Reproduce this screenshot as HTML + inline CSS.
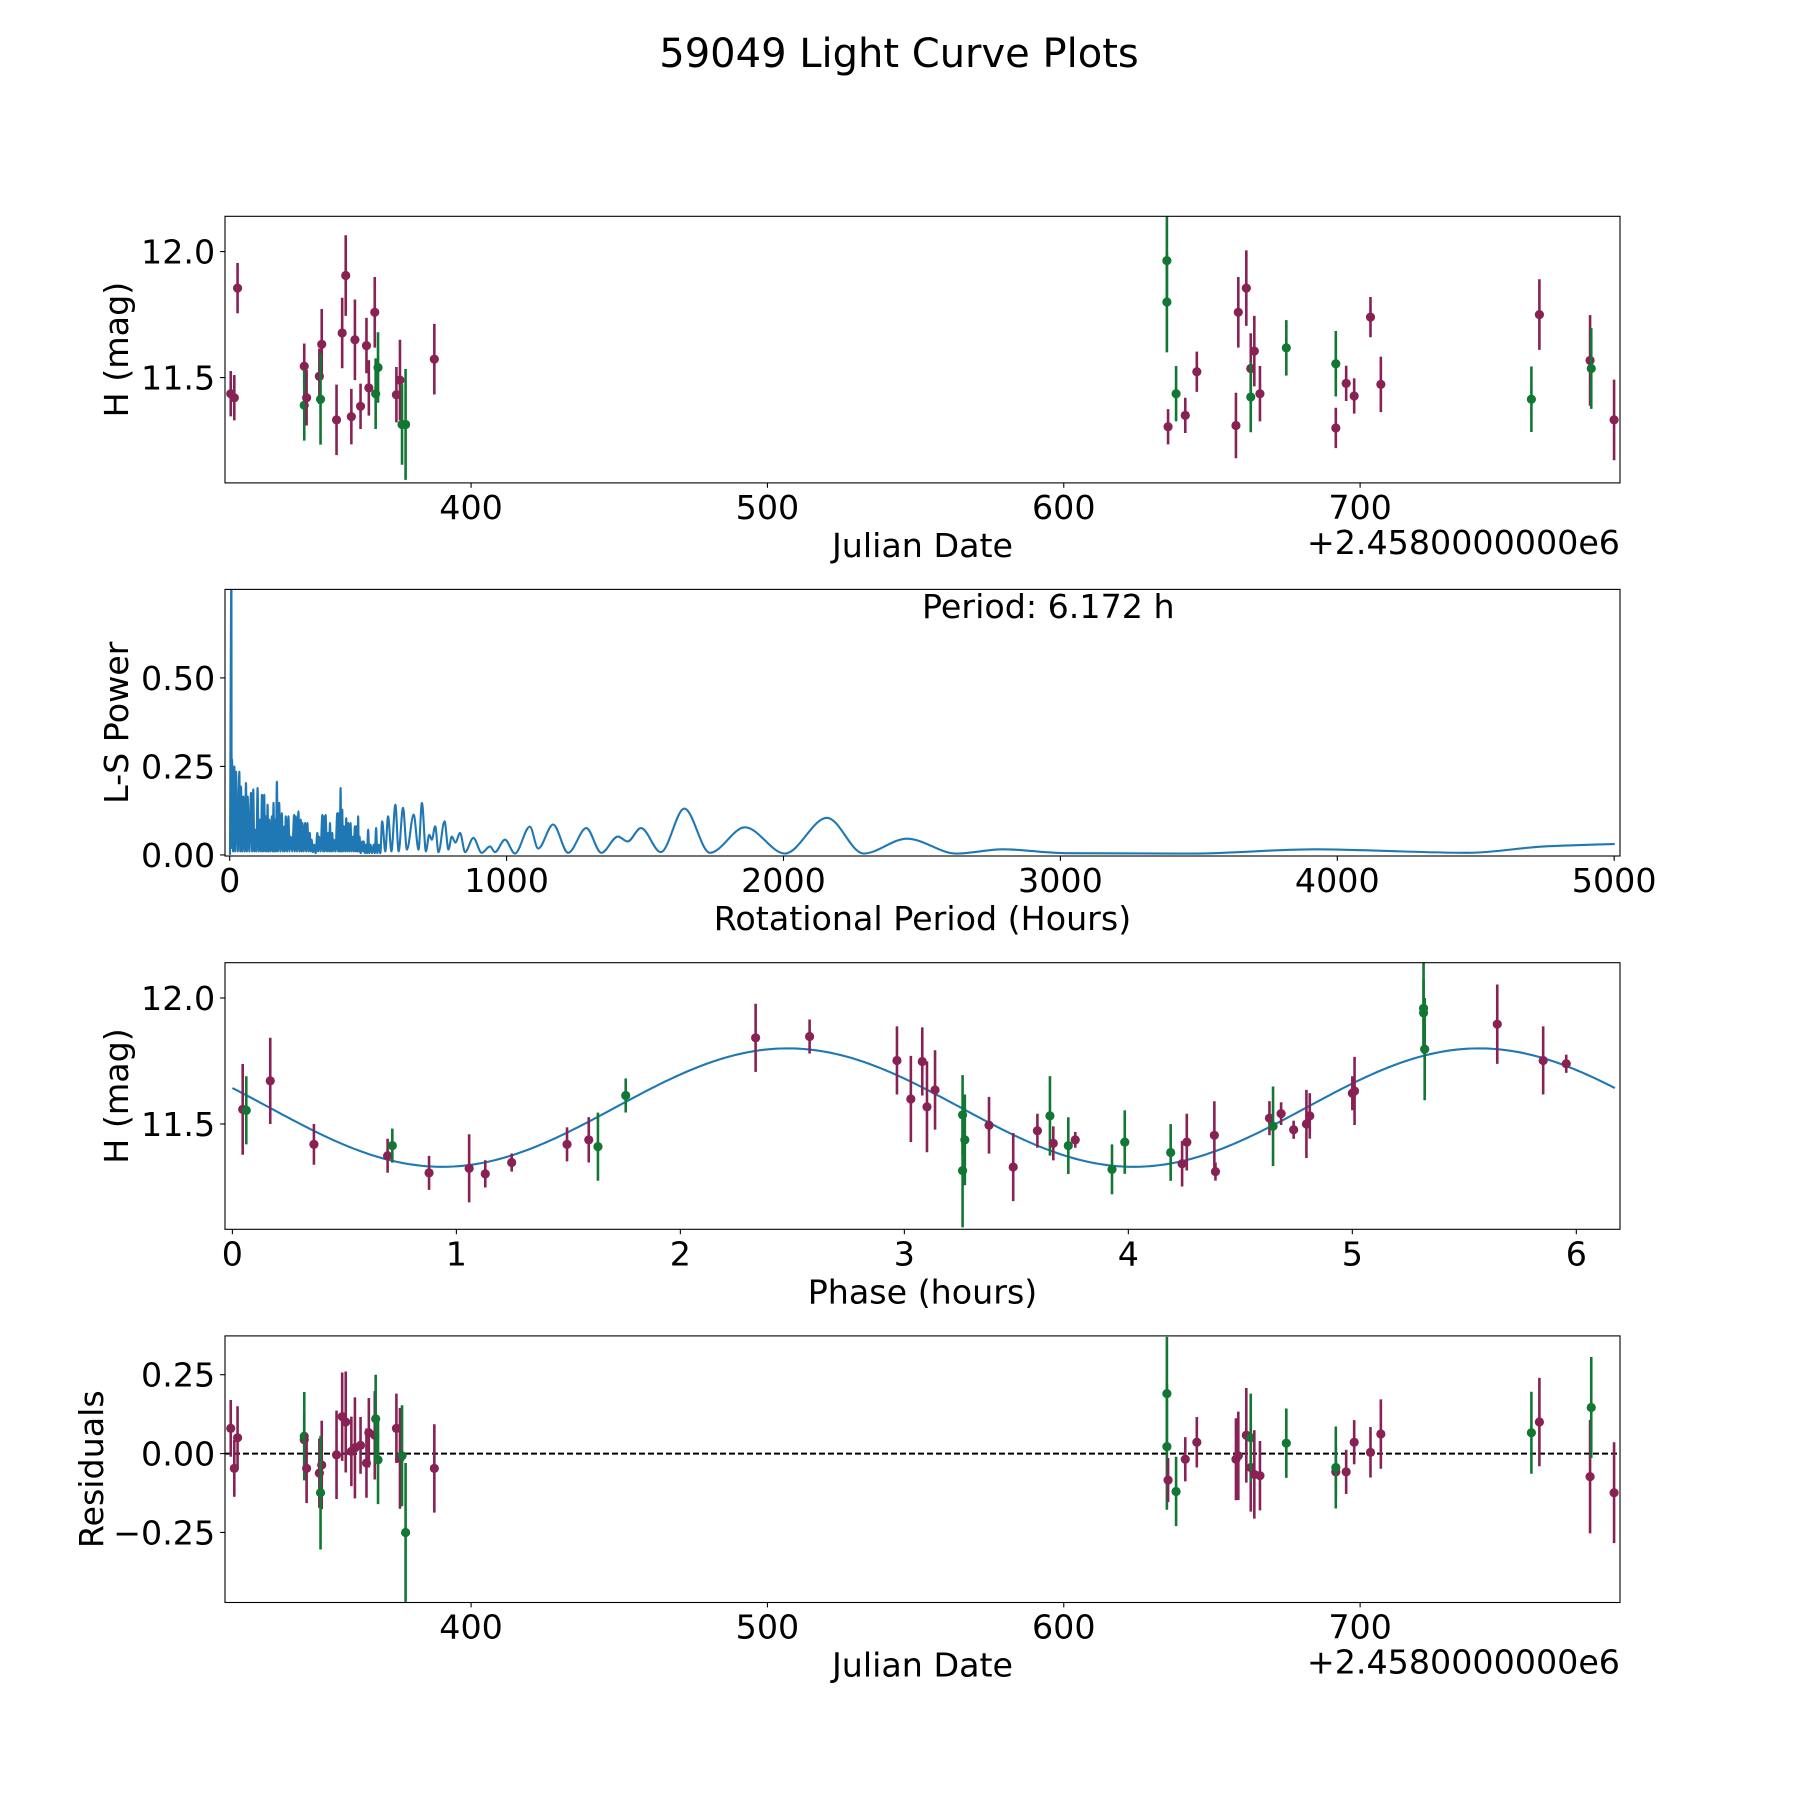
<!DOCTYPE html>
<html><head><meta charset="utf-8">
<style>
html,body{margin:0;padding:0;background:#fff;}
svg{display:block;font-family:"DejaVu Sans","Liberation Sans",sans-serif;}
</style></head>
<body>
<svg id="fig" width="1800" height="1800" viewBox="0 0 1800 1800" xmlns="http://www.w3.org/2000/svg">
<rect width="1800" height="1800" fill="#fff"/>
<text x="899" y="67" font-size="40" text-anchor="middle">59049 Light Curve Plots</text>
</svg>
<script>
// ---------- light curve data (Julian Date offset from 2458000) ----------
const jd = [318.9,320.1,321.2,343.7,343.7,344.5,348.8,349.6,349.2,354.6,356.5,357.7,359.6,360.8,362.7,364.7,365.5,367.5,367.8,368.6,374.8,376,376.7,377.9,387.6,
634.8,634.8,635.2,637.9,641,644.9,658.1,658.9,661.6,663.1,663.1,664.3,666.2,675.1,691.8,691.8,695.3,698,703.5,707,757.8,760.5,777.6,778,785.7];
const mag = [11.436,11.42,11.855,11.545,11.39,11.42,11.505,11.632,11.414,11.332,11.677,11.905,11.345,11.65,11.386,11.627,11.459,11.759,11.436,11.54,11.432,11.49,11.314,11.314,11.573,
11.964,11.8,11.305,11.436,11.35,11.523,11.31,11.759,11.855,11.536,11.423,11.605,11.436,11.618,11.3,11.555,11.477,11.427,11.74,11.473,11.414,11.75,11.568,11.536,11.332];
const magErr = [0.09,0.09,0.1,0.09,0.14,0.11,0.11,0.14,0.18,0.14,0.14,0.16,0.11,0.16,0.09,0.11,0.11,0.14,0.14,0.14,0.11,0.16,0.16,0.22,0.14,
0.18,0.2,0.07,0.11,0.07,0.08,0.13,0.14,0.15,0.14,0.14,0.14,0.11,0.11,0.08,0.13,0.07,0.07,0.08,0.11,0.13,0.14,0.18,0.16,0.16];
const resid = [0.08,-0.047,0.05,0.044,0.055,-0.047,-0.062,-0.036,-0.124,-0.004,0.117,0.1,0.007,0.018,0.026,-0.03,0.066,0.058,0.11,-0.02,0.08,-0.015,-0.007,-0.25,-0.047,
0.19,0.022,-0.084,-0.12,-0.018,0.036,-0.018,-0.007,0.058,-0.044,0.05,-0.066,-0.07,0.033,-0.058,-0.044,-0.058,0.036,0.004,0.062,0.066,0.1,-0.073,0.146,-0.124];
const band = ["p","p","p","p","g","p","p","p","g","p","p","p","p","p","p","p","p","p","g","g","p","p","g","g","p",
"g","g","p","g","p","p","p","p","p","p","g","p","p","g","p","g","p","p","p","p","g","p","p","g","p"];

// ---------- phase-folded data ----------
const phase = [0.046,0.062,0.169,0.364,0.693,0.714,0.878,1.057,1.129,1.247,1.494,1.591,1.632,1.756,2.336,2.577,2.967,3.029,3.08,3.101,3.137,3.26,3.26,3.27,3.378,3.486,3.594,3.65,3.665,3.732,3.763,3.927,3.984,4.189,4.24,4.261,4.384,4.389,4.63,4.646,4.682,4.738,4.795,4.81,5.0,5.01,5.318,5.318,5.323,5.647,5.852,5.955];
const phaseMag = [11.558,11.554,11.671,11.419,11.374,11.414,11.306,11.324,11.302,11.347,11.419,11.437,11.41,11.613,11.842,11.847,11.752,11.599,11.748,11.568,11.635,11.536,11.315,11.437,11.495,11.329,11.473,11.532,11.423,11.414,11.437,11.32,11.428,11.387,11.342,11.428,11.455,11.311,11.523,11.491,11.541,11.477,11.5,11.532,11.622,11.631,11.959,11.941,11.797,11.896,11.752,11.739];
const phaseErrPx = [40,30,38,18,15,15,15,30,12,8,15,20,30,15,30,15,30,38,30,40,35,35,50,40,25,30,15,35,15,25,7,22,28,25,20,25,30,8,15,35,10,8,30,20,15,30,40,30,45,35,30,8];
const phaseBand = ["p","g","p","p","p","g","p","p","p","p","p","p","g","g","p","p","p","p","p","p","p","g","g","g","p","p","p","g","p","g","p","g","g","g","p","p","p","p","p","g","p","p","p","p","p","p","g","g","g","p","p","p"];
// sine fit parameters: mean, amplitude, half-period (h), phase zero (h)
const fitMean = [11.565];
const fitAmp = [0.235];
const fitPeriod = [3.086];
const fitT0 = [1.7085];

// ---------- periodogram ----------
const periodHours = [1,6.2,7,8.4,12,16.8,19.5,22.8,29,34.8,38,40.8,45,49.2,54,58.8,62,64.7,71,76.7,81,85.1,89,92.3,96,100.7,105,109.1,113,116.3,120,124.7,128,130.7,134,136.7,140,142.7,147,152.3,155,158.3,161,164.3,167,170.3,174,178.7,183,188.2,192,196.6,199,202.6,207,212.2,216,220.6,226,232.6,235,238.6,243,248.2,252,256.6,259,262.6,267,272.2,276,280.6,285,289,293,296.2,300,304.6,310,316.5,319,322.5,328,334.5,337,340.5,343,346.5,351,356.1,359,362.1,366,370.5,373,376.5,382,388.5,391,394.5,397,400.5,403,406.5,409,412.5,417,420.9,424,428.1,432,436.5,440,444.8,448,452,455,458,461,464,466,468.8,473,478.4,481,484.4,488,492.8,496,500,504,508.4,514,520.4,524,528.8,533,538.4,544,550.4,562,571.9,584,598.3,610,625.9,640,664.3,682,694.2,708.6,720.6,730,742,754,775.8,790,802,815,832,850,880,910,940,958,994,1030,1084,1114,1168,1222,1288,1342,1402,1437,1485,1557,1642,1734,1861,2005,2157,2289,2446,2624,2792,3016,3478,3917,4471,4748,5002];
const lsPower = [0,0.8,0.02,0.27,0.01,0.25,0.01,0.235,0.01,0.235,0.01,0.193,0.01,0.165,0.01,0.203,0.01,0.165,0.01,0.175,0.01,0.185,0.01,0.071,0.01,0.189,0.01,0.1,0.01,0.17,0.01,0.17,0.01,0.109,0.01,0.142,0.01,0.1,0.01,0.109,0.01,0.147,0.01,0.1,0.01,0.207,0.01,0.147,0.01,0.118,0.01,0.08,0.01,0.109,0.01,0.109,0.01,0.052,0.01,0.113,0.01,0.109,0.01,0.123,0.01,0.1,0.01,0.09,0.01,0.09,0.01,0.09,0.01,0.062,0.01,0.043,0.008,0.029,0.005,0.062,0.01,0.052,0.01,0.113,0.01,0.109,0.01,0.113,0.01,0.062,0.01,0.09,0.01,0.062,0.01,0.043,0.01,0.118,0.01,0.118,0.01,0.189,0.01,0.128,0.01,0.081,0.01,0.104,0.01,0.09,0.01,0.09,0.01,0.052,0.01,0.081,0.01,0.081,0.01,0.109,0.01,0.052,0.005,0.038,0.01,0.038,0.005,0.029,0.005,0.071,0.005,0.029,0.005,0.029,0.005,0.076,0.005,0.029,0.005,0.095,0.01,0.109,0.01,0.142,0.01,0.133,0.015,0.114,0.015,0.147,0.01,0.057,0.043,0.081,0.008,0.095,0.015,0.052,0.035,0.062,0.008,0.048,0.006,0.024,0.008,0.043,0.004,0.08,0.018,0.086,0.006,0.076,0.006,0.052,0.038,0.076,0.008,0.131,0.006,0.078,0.004,0.105,0.004,0.046,0.004,0.016,0.005,0.004,0.016,0.006,0.024,0.031];

// ---------- ticks ----------
const jdTicks = [400,500,600,700];
const magTicks = [11.5,12.0];
const magTickLabels = ["11.5","12.0"];
const pTicks = [0,1000,2000,3000,4000,5000];
const powTicks = [0,0.25,0.5];
const powTickLabels = ["0.00","0.25","0.50"];
const phTicks = [0,1,2,3,4,5,6];
const resTicks = [-0.25,0,0.25];
const resTickLabels = ["\u22120.25","0.00","0.25"];

const NS = "http://www.w3.org/2000/svg";
const svg = document.getElementById("fig");
const COL = {p:"#882255", g:"#117733"};
function el(tag, attrs, parent){ const e=document.createElementNS(NS,tag); for(const k in attrs) e.setAttribute(k,attrs[k]); (parent||svg).appendChild(e); return e; }

const L=225, R=1620, H=266.6;
const tops=[216.3,589.4,962.7,1335.9];
function makeAxes(i, xl, yl, name){
  const t=tops[i], b=t+H;
  const g=el("g",{});
  
  
  const cp=el("clipPath",{id:"clip"+i},g);
  el("rect",{x:L,y:t,width:R-L,height:H},cp);
  const plot=el("g",{"clip-path":"url(#clip"+i+")"},g);
  return {g, plot, t, b,
    x:v=>L+(v-xl[0])/(xl[1]-xl[0])*(R-L),
    y:v=>b-(v-yl[0])/(yl[1]-yl[0])*H};
}
function frame(ax){
  const r=el("rect",{x:L,y:ax.t,width:R-L,height:H,fill:"none",stroke:"#000","stroke-width":1.1},ax.g);
  
  
}
function xticks(ax, vals, labels){
  vals.forEach((v,k)=>{
    const X=ax.x(v);
    el("line",{x1:X,x2:X,y1:ax.b,y2:ax.b+4.9,stroke:"#000","stroke-width":1.1},ax.g);
    const t=el("text",{x:X,y:ax.b+36,"font-size":33.3,"text-anchor":"middle"},ax.g);
    t.textContent=labels?labels[k]:String(v);
    
    
  });
}
function yticks(ax, vals, labels){
  vals.forEach((v,k)=>{
    const Y=ax.y(v);
    el("line",{x1:L-4.9,x2:L,y1:Y,y2:Y,stroke:"#000","stroke-width":1.1},ax.g);
    const t=el("text",{x:L-9.8,y:Y+12,"font-size":33.3,"text-anchor":"end"},ax.g);
    t.textContent=labels[k];
    
    
  });
}
function label(ax, txt, kind, xpos, name){
  let t;
  if(kind==="x"){ t=el("text",{x:(L+R)/2,y:ax.b+74,"font-size":33.3,"text-anchor":"middle"},ax.g); }
  else { const cy=(ax.t+ax.b)/2; t=el("text",{x:0,y:0,"font-size":33.3,"text-anchor":"middle",transform:`translate(${xpos},${cy}) rotate(-90)`},ax.g); }
  t.textContent=txt;
  
  
}
function offsetText(ax){
  const t=el("text",{x:R,y:ax.b+71,"font-size":33.3,"text-anchor":"end"},ax.g);
  t.textContent="+2.4580000000e6";
  
  
}
function errPoint(ax, X, Y, e1, e2, c, name){
  const g=el("g",{},ax.plot);
  
  
  el("line",{x1:X,x2:X,y1:e1,y2:e2,stroke:c,"stroke-width":2.6},g);
  el("circle",{cx:X,cy:Y,r:4.6,fill:c},g);
}

// Panel 1: light curve
const magLim=[11.082,12.14];
const a1=makeAxes(0,[316.96,787.7],magLim,"light-curve-panel");
jd.forEach((d,k)=>errPoint(a1,a1.x(d),a1.y(mag[k]),a1.y(mag[k]-magErr[k]),a1.y(mag[k]+magErr[k]),COL[band[k]],"light-curve-point"));
frame(a1); xticks(a1,jdTicks); yticks(a1,magTicks,magTickLabels);
label(a1,"Julian Date","x",0,"x-axis-title"); offsetText(a1); label(a1,"H (mag)","y",128,"y-axis-title");

// Panel 2: periodogram
const a2=makeAxes(1,[-17,5021],[-0.003,0.75],"periodogram-panel");
(function(){
  const xs=periodHours.map(a2.x), ys=lsPower.map(a2.y), n=xs.length;
  const d=[], m=new Array(n);
  for(let i=0;i<n-1;i++) d.push((ys[i+1]-ys[i])/(xs[i+1]-xs[i]));
  m[0]=d[0]; m[n-1]=d[n-2];
  for(let i=1;i<n-1;i++){ if(d[i-1]*d[i]<=0) m[i]=0; else { const h0=xs[i]-xs[i-1],h1=xs[i+1]-xs[i]; m[i]=3*(h0+h1)/((2*h1+h0)/d[i-1]+(h1+2*h0)/d[i]); } }
  let p=`M${xs[0]},${ys[0]}`;
  for(let i=0;i<n-1;i++){ const h=(xs[i+1]-xs[i])/3; p+=`C${xs[i]+h},${ys[i]+m[i]*h} ${xs[i+1]-h},${ys[i+1]-m[i+1]*h} ${xs[i+1]},${ys[i+1]}`; }
  const path=el("path",{d:p,fill:"none",stroke:"#1f77b4","stroke-width":2.1,"stroke-linejoin":"round"},a2.plot);
  
  
})();
frame(a2); xticks(a2,pTicks); yticks(a2,powTicks,powTickLabels);
label(a2,"Rotational Period (Hours)","x",0,"x-axis-title"); label(a2,"L-S Power","y",128,"y-axis-title");
{ const t=el("text",{x:922,y:618,"font-size":33.3},a2.g); t.textContent="Period: 6.172 h";
    }

// Panel 3: phase-folded
const a3=makeAxes(2,[-0.033,6.195],magLim,"phase-panel");
(function(){
  let p="";
  for(let i=0;i<=300;i++){ const t=i/300*6.172; const v=fitMean[0]+fitAmp[0]*Math.sin(2*Math.PI*(t-fitT0[0])/fitPeriod[0]); p+=(i?"L":"M")+a3.x(t)+","+a3.y(v); }
  const path=el("path",{d:p,fill:"none",stroke:"#1f77b4","stroke-width":2.1},a3.plot);
  
  
})();
const dispPx=222;
phase.forEach((ph,k)=>{ const e=phaseErrPx[k]/dispPx; errPoint(a3,a3.x(ph),a3.y(phaseMag[k]),a3.y(phaseMag[k]-e),a3.y(phaseMag[k]+e),COL[phaseBand[k]],"phase-point"); });
frame(a3); xticks(a3,phTicks); yticks(a3,magTicks,magTickLabels);
label(a3,"Phase (hours)","x",0,"x-axis-title"); label(a3,"H (mag)","y",128,"y-axis-title");

// Panel 4: residuals
const a4=makeAxes(3,[316.96,787.7],[-0.472,0.373],"residuals-panel");
{ const zl=el("line",{x1:L,x2:R,y1:a4.y(0),y2:a4.y(0),stroke:"#000","stroke-width":2,"stroke-dasharray":"6,3"},a4.plot);
    }
jd.forEach((d,k)=>errPoint(a4,a4.x(d),a4.y(resid[k]),a4.y(resid[k]-magErr[k]),a4.y(resid[k]+magErr[k]),COL[band[k]],"residual-point"));
frame(a4); xticks(a4,jdTicks); yticks(a4,resTicks,resTickLabels);
label(a4,"Julian Date","x",0,"x-axis-title"); offsetText(a4); label(a4,"Residuals","y",103,"y-axis-title");
</script>
</body></html>
